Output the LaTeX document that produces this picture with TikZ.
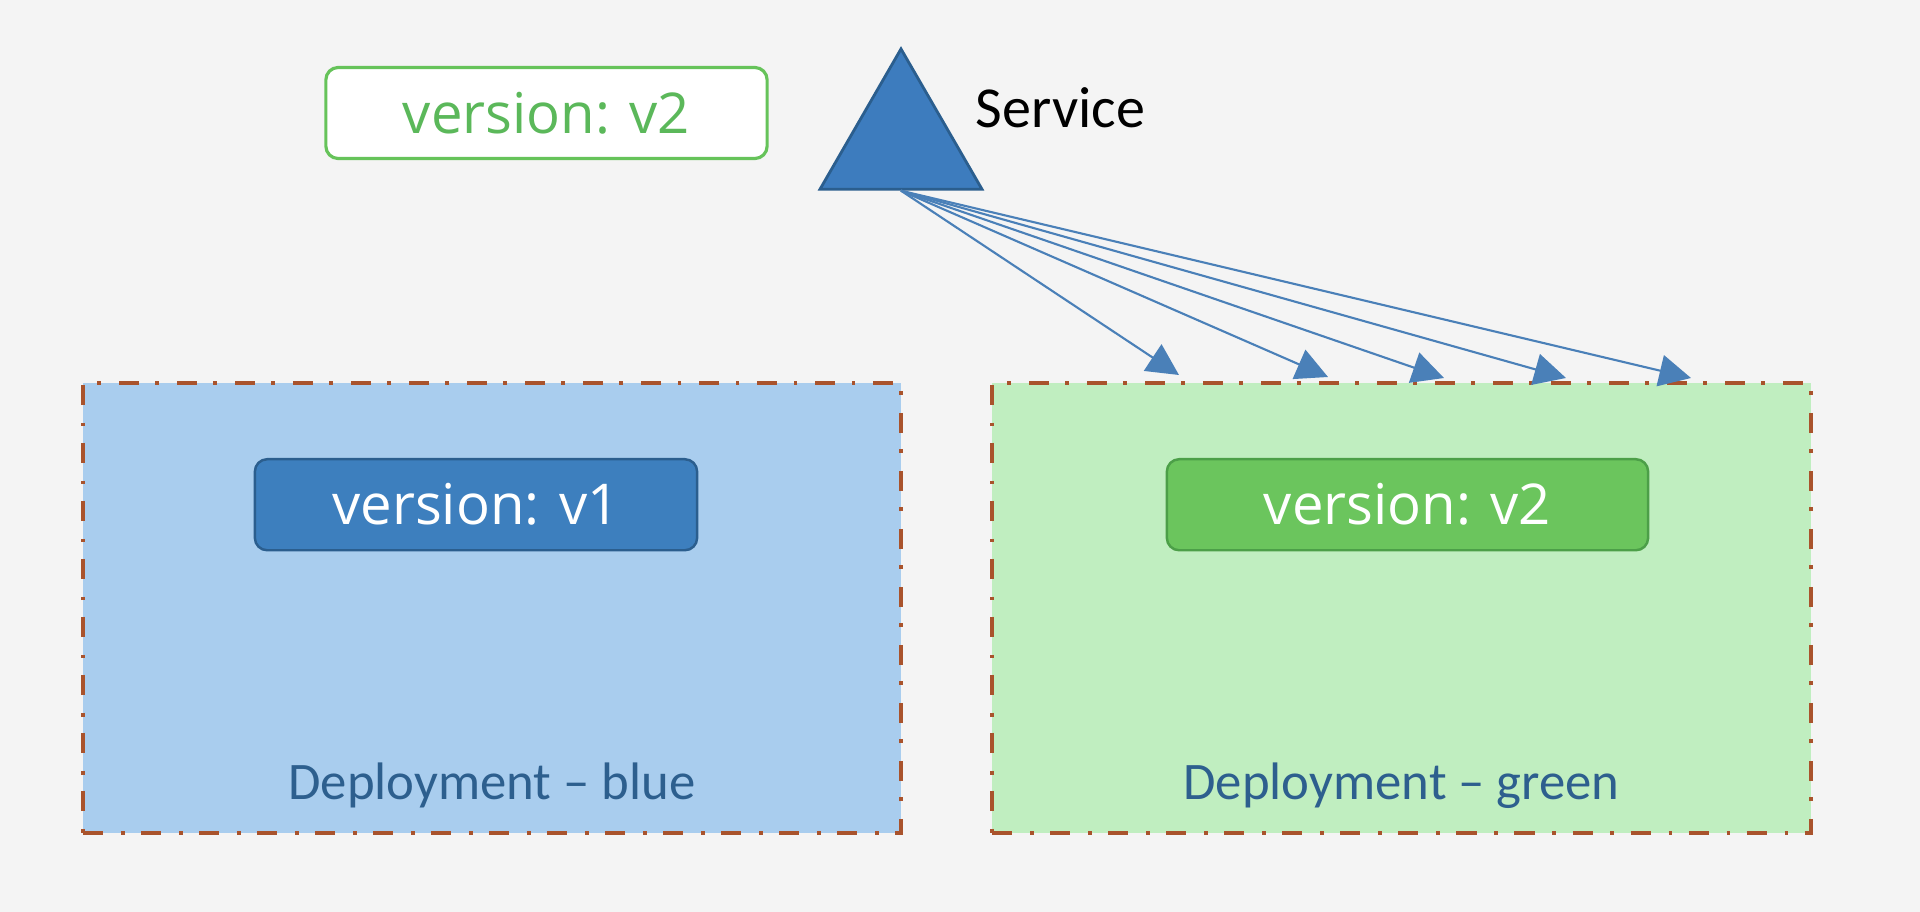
\documentclass[tikz,border=0pt]{standalone}
\usepackage{fontspec}
\usepackage{tikz}
\usetikzlibrary{arrows.meta,positioning,shapes.geometric}
\newfontfamily\labelfont{Open Sans}
\newfontfamily\capfont{Carlito}
\definecolor{bgc}{HTML}{F4F4F4}
\definecolor{bluefill}{HTML}{A9CDEE}
\definecolor{greenfill}{HTML}{C0EEC0}
\definecolor{dashbrown}{HTML}{A9532C}
\definecolor{vonefill}{HTML}{3D7FBE}
\definecolor{voneedge}{HTML}{2B5E8E}
\definecolor{vtwofill}{HTML}{6BC55D}
\definecolor{vtwoedge}{HTML}{4C9F48}
\definecolor{topedge}{HTML}{66C35A}
\definecolor{toptext}{HTML}{5BB85A}
\definecolor{svcblue}{HTML}{3D7CBE}
\definecolor{linkblue}{HTML}{4A80B8}
\definecolor{deptext}{HTML}{2D5F8E}
\tikzset{
  deploy/.style={draw=dashbrown, line width=1.1pt, dash pattern=on 5.7pt off 5.1pt on 1.1pt off 4.6pt, minimum width=8.18cm, minimum height=4.5cm, inner sep=0pt},
  vbox/.style={draw, rounded corners=3.5pt, line width=0.7pt, minimum height=9.1mm, inner sep=0pt, font=\labelfont\fontsize{16}{19}\selectfont},
  depname/.style={font=\capfont\fontsize{15}{18}\selectfont, text=deptext, inner sep=0pt},
  link/.style={-{Triangle[length=9pt,width=9pt]}, line width=0.6pt, draw=linkblue, fill=svcblue},
}
\begin{document}
\begin{tikzpicture}[x=0.01cm, y=-0.01cm]
\fill[bgc] (0,0) rectangle (1920,912);
\useasboundingbox (0,0) rectangle (1920,912);
% deployments
\node[deploy, fill=bluefill] (blue) at (492,608) {};
\node[deploy, fill=greenfill] (green) at (1401.5,608) {};
\node[vbox, fill=vonefill, draw=voneedge, text=white, minimum width=4.42cm, below=7.7mm of blue.north, xshift=-1.6mm] (vone) {version: v1};
\node[vbox, fill=vtwofill, draw=vtwoedge, text=white, minimum width=4.81cm, below=7.7mm of green.north, xshift=0.6mm] (vtwo) {version: v2};
\node[depname, above=2.6mm of blue.south] (bname) {Deployment – blue};
\node[depname, above=2.6mm of green.south] (gname) {Deployment – green};
% service
\node[regular polygon, regular polygon sides=3, minimum size=1.87cm, inner sep=0pt, fill=svcblue, draw=voneedge, line width=0.8pt] (svc) at (901,142.5) {};
\node[font=\capfont\fontsize{16.5}{19}\selectfont, anchor=west, inner sep=0pt] (svcname) at (975,108) {Service};
\node[vbox, fill=white, draw=topedge, line width=0.9pt, text=toptext, minimum width=4.41cm] (sel) at (546.5,113) {version: v2};
% links to the green pods
\foreach \x/\y [count=\i] in {1179/375, 1328/377, 1444/378, 1566/378, 1691/378}{
  \coordinate (tip\i) at (\x,\y);
  \draw[link] (svc.south) -- (tip\i);
}
\end{tikzpicture}
\end{document}
